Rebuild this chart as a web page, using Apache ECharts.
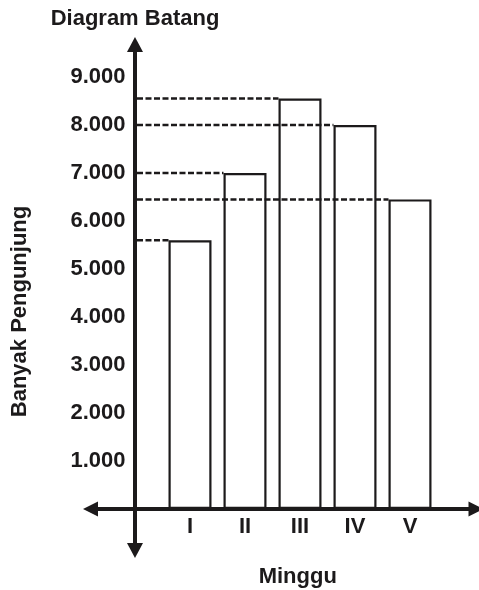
<!DOCTYPE html>
<html>
<head>
<meta charset="utf-8">
<script src="https://cdn.jsdelivr.net/npm/echarts@6/dist/echarts.min.js"></script>
<style>
  html, body { margin: 0; padding: 0; background: #ffffff; }
  #chart { width: 479px; height: 590px; }
</style>
</head>
<body>
<div id="chart"></div>
<script>
// ---- data ----
const chartTitle = 'Diagram Batang';
const xAxisTitle = 'Minggu';
const yAxisTitle = 'Banyak Pengunjung';
const weeks = ['I', 'II', 'III', 'IV', 'V'];
const weekNumbers = [1, 2, 3, 4, 5];
const visitors = [5600, 7000, 8550, 8000, 6450];
const yTickValues = [1000, 2000, 3000, 4000, 5000, 6000, 7000, 8000, 9000];
const yTickLabels = ['1.000', '2.000', '3.000', '4.000', '5.000', '6.000', '7.000', '8.000', '9.000'];

// ---- style ----
const INK = '#1c1a1b';
const FONT = '"Liberation Sans", Arial, sans-serif';
const FONT_SIZE = 22;
const BAR_WIDTH = 43;

const points = weekNumbers.map((w, i) => [w, visitors[i]]);

const chart = echarts.init(document.getElementById('chart'), null, { renderer: 'canvas' });
chart.setOption({
  animation: false,
  backgroundColor: '#ffffff',
  title: {
    text: chartTitle,
    left: 135,
    top: 8,
    padding: 0,
    textAlign: 'center',
    textStyle: { fontFamily: FONT, fontSize: FONT_SIZE, fontWeight: 'bold', color: INK }
  },
  grid: { left: 90.5, right: 3, top: 44.5, bottom: 39.5, containLabel: false, outerBoundsMode: 'none' },
  xAxis: {
    type: 'value',
    min: -0.809,
    max: 6.2,
    name: xAxisTitle,
    nameLocation: 'middle',
    nameGap: 15.5,
    nameTextStyle: { fontFamily: FONT, fontSize: FONT_SIZE, fontWeight: 'bold', color: INK, padding: [0, 0, 0, 29] },
    axisLine: {
      show: true, onZero: true,
      symbol: ['triangle', 'triangle'],
      symbolSize: [15, 15],
      lineStyle: { color: INK, width: 4 }
    },
    axisTick: { show: false },
    splitLine: { show: false },
    axisLabel: {
      customValues: weekNumbers,
      margin: -35,
      formatter: (v) => weeks[weekNumbers.indexOf(Math.round(v))] || '',
      fontFamily: FONT, fontSize: FONT_SIZE, fontWeight: 'bold', color: INK
    }
  },
  yAxis: {
    type: 'value',
    min: -864.6,
    max: 9677,
    name: yAxisTitle,
    nameLocation: 'middle',
    nameRotate: 90,
    nameGap: 59.5,
    nameTextStyle: { fontFamily: FONT, fontSize: FONT_SIZE, fontWeight: 'bold', color: INK, padding: [0, 28, 0, 0] },
    axisLine: {
      show: true, onZero: true,
      symbol: ['triangle', 'triangle'],
      symbolSize: [16, 15],
      lineStyle: { color: INK, width: 4 }
    },
    axisTick: { show: false },
    splitLine: { show: false },
    axisLabel: {
      customValues: yTickValues,
      margin: -35,
      formatter: (v) => yTickLabels[yTickValues.indexOf(Math.round(v))] || '',
      fontFamily: FONT, fontSize: FONT_SIZE, fontWeight: 'bold', color: INK
    }
  },
  series: [
    {
      type: 'custom',
      name: 'guides',
      z: 1,
      silent: true,
      encode: { x: 0, y: 1 },
      data: points,
      renderItem: (params, api) => {
        const top = api.coord([api.value(0), api.value(1)]);
        const origin = api.coord([0, api.value(1)]);
        return {
          type: 'line',
          shape: { x1: origin[0] + 2, y1: top[1], x2: top[0] - BAR_WIDTH / 2, y2: top[1] },
          style: { stroke: INK, lineWidth: 2.5, lineDash: [6, 2.5] }
        };
      }
    },
    {
      type: 'bar',
      name: 'Banyak Pengunjung',
      z: 2,
      barWidth: BAR_WIDTH,
      data: points,
      itemStyle: { color: 'rgba(255,255,255,0)', borderColor: INK, borderWidth: 2.2 }
    }
  ]
});
</script>
</body>
</html>
